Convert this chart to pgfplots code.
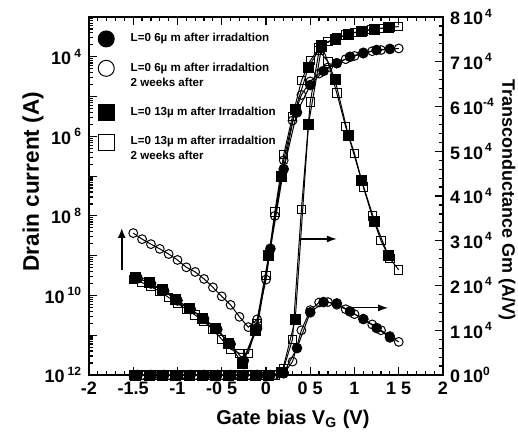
\documentclass[border=0pt]{standalone}
\usepackage{pgfplots}
\pgfplotsset{compat=1.18}
\usepackage{fontspec}
\setmainfont{Liberation Sans}
\usetikzlibrary{arrows.meta}

% legend marker aligned with the first of two text lines
\pgfplotsset{twoline/.style={legend image code/.code={\path (10pt,-3.75pt); \draw[##1,mark size=4pt] plot coordinates {(0pt,3.75pt)};}}}

\begin{document}
\begin{tikzpicture}[font=\bfseries]
\useasboundingbox (-44.5pt,-32pt) rectangle (214.5pt,187.5pt);

% left axis: drain current (log)
\begin{axis}[
  at={(0,0)}, anchor=south west,
  width=177pt, height=179pt, scale only axis,
  xmin=-2, xmax=2, ymode=log, ymin=1e-12, ymax=1e-3,
  axis line style={line width=1pt},
  tick align=inside, ytick pos=left,
  major tick length=4pt, minor tick length=2.2pt,
  every tick/.style={black, line width=0.6pt},
  xtick={-2,-1.5,-1,-0.5,0,0.5,1,1.5,2},
  xticklabels={-2,-1.5,-1,-0 5,0,0 5,1,1 5,2},
  minor x tick num=4,
  ytick={1e-12,1e-11,1e-10,1e-9,1e-8,1e-7,1e-6,1e-5,1e-4,1e-3},
  yticklabels={10\,\textsuperscript{12},,10\,\textsuperscript{10},,10\,\textsuperscript{8},,10\,\textsuperscript{6},,10\,\textsuperscript{4},},
  tick label style={font=\bfseries\fontsize{9}{10}\selectfont},
  every axis x label/.style={at={(axis description cs:0.576,0)}, anchor=north, yshift=-14pt},
  every axis y label/.style={at={(axis description cs:-0.158,0.54)}, rotate=90, anchor=center},
  xlabel={Gate bias V\textsubscript{G} (V)},
  ylabel={Drain current (A)},
  xlabel style={font=\bfseries\fontsize{10}{12}\selectfont},
  ylabel style={font=\bfseries\fontsize{11.3}{13}\selectfont},
  legend style={draw=none, fill=none, at={(0.025,0.967)}, anchor=north west,
    font=\bfseries\fontsize{5.8}{7.5}\selectfont, row sep=5pt, inner sep=0pt,
    cells={anchor=west, align=left}},
  legend cell align=left,
  legend image code/.code={\path (10pt,0pt); \draw[#1,mark size=4pt] plot coordinates {(0pt,0pt)};},
]
\addplot[black, line width=0.5pt, mark=*, mark size=2.4pt] coordinates {
(-1.45,2.7e-10) (-1.30,2.0e-10) (-1.15,1.3e-10) (-1.00,7.5e-11) (-0.85,4.5e-11)
(-0.70,2.6e-11) (-0.55,1.4e-11) (-0.40,6.0e-12) (-0.25,2.3e-12) (-0.10,1.5e-11)
(0.05,1.5e-9) (0.20,1.5e-7) (0.35,4.0e-6) (0.50,1.95e-5) (0.65,4.4e-5)
(0.80,6.9e-5) (0.95,1.0e-4) (1.10,1.26e-4) (1.25,1.48e-4) (1.40,1.58e-4)};
\addlegendentry{L=0 6µ m after irradaltion}
\addplot[black, line width=0.5pt, mark=o, mark size=2.2pt, twoline] coordinates {
(-1.5,3.7e-9) (-1.4,2.6e-9) (-1.3,1.95e-9) (-1.2,1.48e-9) (-1.1,1.1e-9)
(-1.0,7.8e-10) (-0.9,5.1e-10) (-0.8,3.9e-10) (-0.7,2.6e-10) (-0.6,1.6e-10)
(-0.5,9.5e-11) (-0.4,5.8e-11) (-0.3,2.9e-11) (-0.2,1.6e-11) (-0.1,2.5e-11)
(0.0,2.5e-10) (0.1,1.0e-8) (0.2,2.5e-7) (0.3,2.5e-6) (0.4,1.1e-5)
(0.5,2.4e-5) (0.6,3.8e-5) (0.7,5.4e-5) (0.8,6.9e-5) (0.9,8.7e-5)
(1.0,1.05e-4) (1.1,1.2e-4) (1.2,1.38e-4) (1.3,1.48e-4) (1.4,1.55e-4) (1.5,1.62e-4)};
\addlegendentry{L=0 6µ m after irradaltion\\2 weeks after}
\addplot[black, line width=0.5pt, mark=square*, mark size=2.5pt] coordinates {
(-1.47,2.88e-10) (-1.32,2.09e-10) (-1.17,1.38e-10) (-1.02,7.9e-11) (-0.87,4.8e-11)
(-0.72,2.7e-11) (-0.57,1.5e-11) (-0.42,6.3e-12) (-0.27,2.0e-12) (-0.12,1.35e-11)
(0.03,1.0e-9) (0.18,1.0e-7) (0.33,4.6e-6) (0.48,5.5e-5) (0.63,1.95e-4)
(0.78,2.8e-4) (0.93,3.7e-4) (1.08,4.4e-4) (1.23,4.9e-4) (1.38,5.5e-4)};
\addlegendentry{L=0 13µ m after Irradaltion}
\addplot[black, line width=0.5pt, mark=square, mark size=2.1pt, twoline] coordinates {
(-1.5,2.5e-10) (-1.4,2.1e-10) (-1.3,1.66e-10) (-1.2,1.26e-10) (-1.1,8.9e-11)
(-1.0,6.3e-11) (-0.9,4.5e-11) (-0.8,3.2e-11) (-0.7,2.2e-11) (-0.6,1.4e-11)
(-0.5,7.9e-12) (-0.4,4.5e-12) (-0.3,3.5e-12) (-0.2,3.5e-12) (-0.1,2.0e-11)
(0.0,3.2e-10) (0.1,1.26e-8) (0.2,3.5e-7) (0.3,3.2e-6) (0.4,2.5e-5)
(0.5,8.0e-5) (0.6,1.66e-4) (0.7,2.4e-4) (0.8,3.0e-4) (0.9,3.5e-4)
(1.0,4.1e-4) (1.1,4.5e-4) (1.2,4.9e-4) (1.3,5.2e-4) (1.4,5.5e-4) (1.5,5.75e-4)};
\addlegendentry{L=0 13µ m after irradaltion\\2 weeks after}
\draw[line width=1pt, -{Latex[length=5pt,width=4pt]}] (axis cs:-1.63,4.4e-10) -- (axis cs:-1.63,5.0e-9);
\end{axis}

% right axis: transconductance (units of 1e-4 A/V)
\begin{axis}[
  at={(0,0)}, anchor=south west,
  width=177pt, height=179pt, scale only axis,
  xmin=-2, xmax=2, ymin=0, ymax=8,
  axis x line=none, axis y line*=right,
  y axis line style={line width=1pt, -},
  tick align=inside,
  major tick length=4pt, minor tick length=2.2pt,
  every tick/.style={black, line width=0.6pt},
  ytick={0,1,2,3,4,5,6,7,8}, minor y tick num=4,
  yticklabels={0\,10\textsuperscript{0},1\,10\textsuperscript{\,4},2\,10\textsuperscript{\,4},3\,10\textsuperscript{\,4},4\,10\textsuperscript{\,4},5\,10\textsuperscript{\,4},6\,10\textsuperscript{-4},7\,10\textsuperscript{\,4},8\,10\textsuperscript{\,4}},
  tick label style={font=\bfseries\fontsize{9}{10}\selectfont},
  every axis y label/.style={at={(axis description cs:1.181,0.489)}, rotate=-90, anchor=center},
  ylabel={Transconductance Gm (A/V)},
  ylabel style={font=\bfseries\fontsize{9}{11}\selectfont},
]
\addplot[black, line width=0.5pt, mark=*, mark size=2.4pt] coordinates {
(-1.45,0) (-1.30,0) (-1.15,0) (-1.00,0) (-0.85,0) (-0.70,0) (-0.55,0) (-0.40,0)
(-0.25,0) (-0.10,0) (0.05,0) (0.20,0.05) (0.35,0.6) (0.50,1.4) (0.65,1.63)
(0.80,1.6) (0.95,1.42) (1.10,1.25) (1.25,1.05) (1.40,0.84)};
\addplot[black, line width=0.5pt, mark=o, mark size=2.2pt] coordinates {
(-1.5,0) (-1.4,0) (-1.3,0) (-1.2,0) (-1.1,0) (-1.0,0) (-0.9,0) (-0.8,0) (-0.7,0)
(-0.6,0) (-0.5,0) (-0.4,0) (-0.3,0) (-0.2,0) (-0.1,0) (0.0,0) (0.1,0)
(0.2,0.03) (0.3,0.3) (0.4,1.0) (0.5,1.45) (0.6,1.62) (0.7,1.63) (0.8,1.57)
(0.9,1.47) (1.0,1.36) (1.1,1.25) (1.2,1.13) (1.3,1.0) (1.4,0.87) (1.5,0.74)};
\addplot[black, line width=0.5pt, mark=square*, mark size=2.5pt] coordinates {
(-1.47,0) (-1.32,0) (-1.17,0) (-1.02,0) (-0.87,0) (-0.72,0) (-0.57,0) (-0.42,0)
(-0.27,0) (-0.12,0) (0.03,0) (0.18,0.05) (0.33,1.23) (0.48,5.6) (0.63,7.35)
(0.78,6.6) (0.93,5.36) (1.08,4.35) (1.23,3.42) (1.38,2.68)};
\addplot[black, line width=0.5pt, mark=square, mark size=2.1pt] coordinates {
(-1.5,0) (-1.4,0) (-1.3,0) (-1.2,0) (-1.1,0) (-1.0,0) (-0.9,0) (-0.8,0) (-0.7,0)
(-0.6,0) (-0.5,0) (-0.4,0) (-0.3,0) (-0.2,0) (-0.1,0) (0.0,0) (0.1,0)
(0.2,0.15) (0.3,0.8) (0.4,3.7) (0.5,6.1) (0.6,7.25) (0.7,7.0) (0.8,6.3)
(0.9,5.55) (1.0,4.95) (1.1,4.2) (1.2,3.55) (1.3,3.0) (1.4,2.6) (1.5,2.35)};
\draw[line width=0.6pt, -{Latex[length=5pt,width=3.5pt]}] (axis cs:0.39,3.04) -- (axis cs:0.80,3.04);
\draw[line width=0.6pt, -{Latex[length=5pt,width=3.5pt]}] (axis cs:0.92,1.50) -- (axis cs:1.38,1.50);
\end{axis}
\end{tikzpicture}
\end{document}
